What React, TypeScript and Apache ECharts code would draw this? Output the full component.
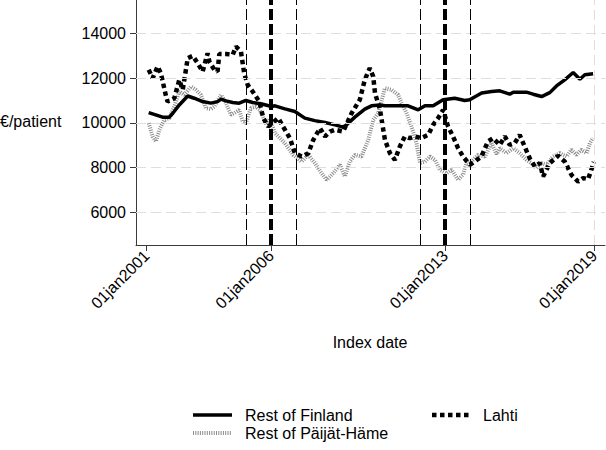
import React, { useEffect, useRef } from "react";
import * as echarts from "echarts";

// Decimal year of each observation and the cost value (€/patient)
const finlandDates = [2001.08, 2001.64, 2001.91, 2002.05, 2002.31, 2002.65, 2002.91, 2003.25, 2003.58, 2003.85, 2003.99, 2004.19, 2004.46, 2004.72, 2004.99, 2005.26, 2005.59, 2006.02, 2006.16, 2006.56, 2006.96, 2007.36, 2007.76, 2008.17, 2008.57, 2008.9, 2009.04, 2009.37, 2009.77, 2010.04, 2010.38, 2010.58, 2010.98, 2011.51, 2011.92, 2012.19, 2012.52, 2012.92, 2013.39, 2013.79, 2013.99, 2014.47, 2014.87, 2015.2, 2015.6, 2015.74, 2016.27, 2016.54, 2016.88, 2017.21, 2017.48, 2017.81, 2018.15, 2018.42, 2018.62, 2018.95];
const finlandValues = [10460, 10255, 10255, 10430, 10800, 11200, 11100, 10950, 10880, 10950, 11060, 10980, 10910, 10880, 11000, 10910, 10850, 10730, 10760, 10625, 10505, 10210, 10100, 10015, 9910, 9810, 9910, 10255, 10610, 10760, 10800, 10760, 10760, 10760, 10580, 10760, 10760, 11030, 11100, 11000, 11030, 11330, 11400, 11430, 11280, 11370, 11370, 11280, 11175, 11350, 11650, 11920, 12250, 11950, 12150, 12190];

const lahtiDates = [2001.08, 2001.24, 2001.44, 2001.57, 2001.78, 2001.84, 2002.11, 2002.31, 2002.45, 2002.65, 2002.85, 2003.05, 2003.25, 2003.45, 2003.52, 2003.72, 2003.85, 2003.92, 2004.19, 2004.46, 2004.59, 2004.79, 2004.92, 2005.06, 2005.26, 2005.53, 2005.69, 2005.89, 2006.29, 2006.56, 2006.76, 2006.96, 2007.23, 2007.5, 2007.7, 2007.97, 2008.17, 2008.37, 2008.57, 2008.9, 2009.24, 2009.57, 2009.77, 2009.97, 2010.11, 2010.18, 2010.38, 2010.58, 2010.78, 2010.98, 2011.18, 2011.38, 2011.58, 2011.78, 2012.05, 2012.32, 2012.52, 2012.72, 2012.92, 2013.12, 2013.32, 2013.52, 2013.72, 2013.99, 2014.19, 2014.46, 2014.72, 2014.93, 2015.2, 2015.4, 2015.6, 2015.8, 2016.0, 2016.2, 2016.4, 2016.61, 2016.81, 2016.94, 2017.21, 2017.54, 2017.81, 2018.08, 2018.35, 2018.55, 2018.75, 2018.88, 2018.98];
const lahtiValues = [12370, 12000, 12520, 12220, 11175, 10950, 11100, 11920, 11475, 12890, 12990, 12670, 12290, 13110, 12740, 12370, 12290, 13080, 13080, 13040, 13410, 13185, 12220, 11700, 11400, 10950, 10210, 9835, 10210, 9690, 9315, 8645, 8495, 8645, 9240, 9760, 9390, 9610, 9690, 9610, 10430, 11030, 11920, 12445, 12070, 11330, 10600, 9240, 8645, 8345, 8940, 9390, 9315, 9390, 9315, 9465, 9910, 10210, 10580, 9835, 9390, 8870, 8495, 8125, 8270, 8495, 9165, 9315, 9015, 9390, 9015, 9090, 9465, 8940, 8420, 8045, 8200, 7600, 8200, 8525, 8270, 7675, 7375, 7530, 7485, 7900, 8250];

const paijatDates = [2001.08, 2001.24, 2001.37, 2001.51, 2001.71, 2001.91, 2002.11, 2002.31, 2002.51, 2002.78, 2002.98, 2003.18, 2003.38, 2003.58, 2003.72, 2003.99, 2004.19, 2004.39, 2004.52, 2004.72, 2004.86, 2004.99, 2005.19, 2005.39, 2005.55, 2005.82, 2005.95, 2006.16, 2006.56, 2006.89, 2007.23, 2007.5, 2007.76, 2008.03, 2008.24, 2008.5, 2008.77, 2008.97, 2009.17, 2009.37, 2009.64, 2009.91, 2010.11, 2010.31, 2010.58, 2010.85, 2011.11, 2011.25, 2011.45, 2011.65, 2011.85, 2011.99, 2012.19, 2012.39, 2012.59, 2012.79, 2013.06, 2013.26, 2013.52, 2013.72, 2013.86, 2014.06, 2014.33, 2014.6, 2014.87, 2015.07, 2015.2, 2015.47, 2015.74, 2016.0, 2016.27, 2016.47, 2016.68, 2016.88, 2017.08, 2017.34, 2017.61, 2017.88, 2018.08, 2018.28, 2018.48, 2018.69, 2018.82, 2018.95];
const paijatValues = [9985, 9390, 9165, 9690, 10130, 10210, 10730, 11400, 11250, 11620, 11475, 11250, 10655, 10610, 10730, 11250, 10880, 10360, 10430, 10580, 10060, 9985, 10655, 10730, 10580, 9910, 10200, 9540, 9090, 8570, 8270, 8570, 8200, 7750, 7450, 7750, 8125, 7600, 8270, 8570, 8495, 9240, 10130, 10430, 11550, 11475, 11250, 10880, 10430, 9835, 9090, 8200, 8270, 8495, 8345, 7900, 7750, 7900, 7450, 7675, 8200, 8270, 8570, 8495, 9100, 8600, 8870, 8645, 8870, 8645, 8345, 8200, 7975, 8200, 8125, 8495, 8645, 8495, 8795, 8570, 8795, 8645, 9090, 9315];

const xTickYears = [2001, 2006, 2013, 2019];
const yTickValues = [6000, 8000, 10000, 12000, 14000];
const thinEventLines = [2005, 2007, 2012, 2014];
const thickEventLines = [2006, 2013];
const xGridYears = [2019];

const seriesNames = ["Rest of Finland", "Lahti", "Rest of Päijät-Häme"];

const FONT = "'Liberation Sans', Arial, sans-serif";

const zip = (xs: number[], ys: number[]) => xs.map((x, i) => [x, ys[i]]);

export default function App() {
  const ref = useRef<HTMLDivElement>(null);

  useEffect(() => {
    if (!ref.current) return;
    const chart = echarts.init(ref.current, undefined, { renderer: "svg" });

    const gridLines = [
      ...yTickValues.map((v) => ({
        yAxis: v,
        lineStyle: { color: "#dedede", width: 1, type: [10, 5] as any },
      })),
      ...xGridYears.map((v) => ({
        xAxis: v,
        lineStyle: { color: "#dedede", width: 1, type: [10, 5] as any },
      })),
    ];
    const eventLines = [
      ...thinEventLines.map((v) => ({
        xAxis: v,
        lineStyle: { color: "#000", width: 1, type: [11, 4] as any },
      })),
      ...thickEventLines.map((v) => ({
        xAxis: v,
        lineStyle: { color: "#000", width: 4, type: [11, 4] as any },
      })),
    ];

    const legendY1 = 415;
    const legendY2 = 433;

    chart.setOption({
      animation: false,
      backgroundColor: "#fff",
      textStyle: { fontFamily: FONT },
      grid: { left: 136, right: 1, top: 0, bottom: 205 },
      xAxis: {
        type: "value",
        min: 2000.57,
        max: 2019.43,
        axisLine: { show: true, lineStyle: { color: "#3a3a3a", width: 1 } },
        axisTick: {
          show: true,
          length: 6,
          customValues: xTickYears,
          lineStyle: { color: "#3a3a3a" },
        },
        axisLabel: {
          customValues: xTickYears,
          rotate: 45,
          margin: 8,
          fontSize: 16,
          color: "#000",
          fontFamily: FONT,
          formatter: (v: number) => "01jan" + Math.round(v),
        },
        splitLine: { show: false },
      },
      yAxis: {
        type: "value",
        min: 4540,
        max: 15490,
        axisLine: { show: true, lineStyle: { color: "#3a3a3a", width: 1 } },
        axisTick: {
          show: true,
          length: 6,
          customValues: yTickValues,
          lineStyle: { color: "#3a3a3a" },
        },
        axisLabel: {
          customValues: yTickValues,
          margin: 10,
          fontSize: 16,
          color: "#000",
          fontFamily: FONT,
          formatter: (v: number) => String(Math.round(v)),
        },
        splitLine: { show: false },
      },
      series: [
        {
          name: seriesNames[2],
          type: "line",
          z: 2,
          symbol: "none",
          data: zip(paijatDates, paijatValues),
          lineStyle: { color: "#8c8c8c", width: 4, type: [1, 1.3] as any },
          markLine: {
            silent: true,
            symbol: "none",
            label: { show: false },
            animation: false,
            data: [...gridLines, ...eventLines],
          },
        },
        {
          name: seriesNames[1],
          type: "line",
          z: 3,
          symbol: "none",
          data: zip(lahtiDates, lahtiValues),
          lineStyle: { color: "#000", width: 4.5, type: [4.5, 3.5] as any },
        },
        {
          name: seriesNames[0],
          type: "line",
          z: 4,
          symbol: "none",
          data: zip(finlandDates, finlandValues),
          lineStyle: { color: "#000", width: 3.5 },
        },
      ],
      graphic: [
        {
          type: "text",
          left: 0,
          top: 113,
          style: { text: "€/patient", fontSize: 16, fill: "#000", fontFamily: FONT },
        },
        {
          type: "text",
          x: 370,
          y: 342,
          style: {
            text: "Index date",
            fontSize: 16,
            fill: "#000",
            fontFamily: FONT,
            align: "center",
            verticalAlign: "middle",
          },
        },
        {
          type: "line",
          shape: { x1: 193, y1: legendY1, x2: 232, y2: legendY1 },
          style: { stroke: "#000", lineWidth: 3.5 },
        },
        {
          type: "text",
          x: 245,
          y: legendY1,
          style: { text: seriesNames[0], fontSize: 16, fill: "#000", fontFamily: FONT, verticalAlign: "middle" },
        },
        {
          type: "line",
          shape: { x1: 432, y1: legendY1, x2: 470, y2: legendY1 },
          style: { stroke: "#000", lineWidth: 4.5, lineDash: [4.5, 3.5] },
        },
        {
          type: "text",
          x: 483,
          y: legendY1,
          style: { text: seriesNames[1], fontSize: 16, fill: "#000", fontFamily: FONT, verticalAlign: "middle" },
        },
        {
          type: "line",
          shape: { x1: 193, y1: legendY2, x2: 232, y2: legendY2 },
          style: { stroke: "#8c8c8c", lineWidth: 4, lineDash: [1, 1.3] },
        },
        {
          type: "text",
          x: 245,
          y: legendY2,
          style: { text: seriesNames[2], fontSize: 16, fill: "#000", fontFamily: FONT, verticalAlign: "middle" },
        },
      ],
    });

    return () => chart.dispose();
  }, []);

  return <div ref={ref} style={{ width: 606, height: 450, position: "absolute", left: 0, top: 0 }} />;
}
